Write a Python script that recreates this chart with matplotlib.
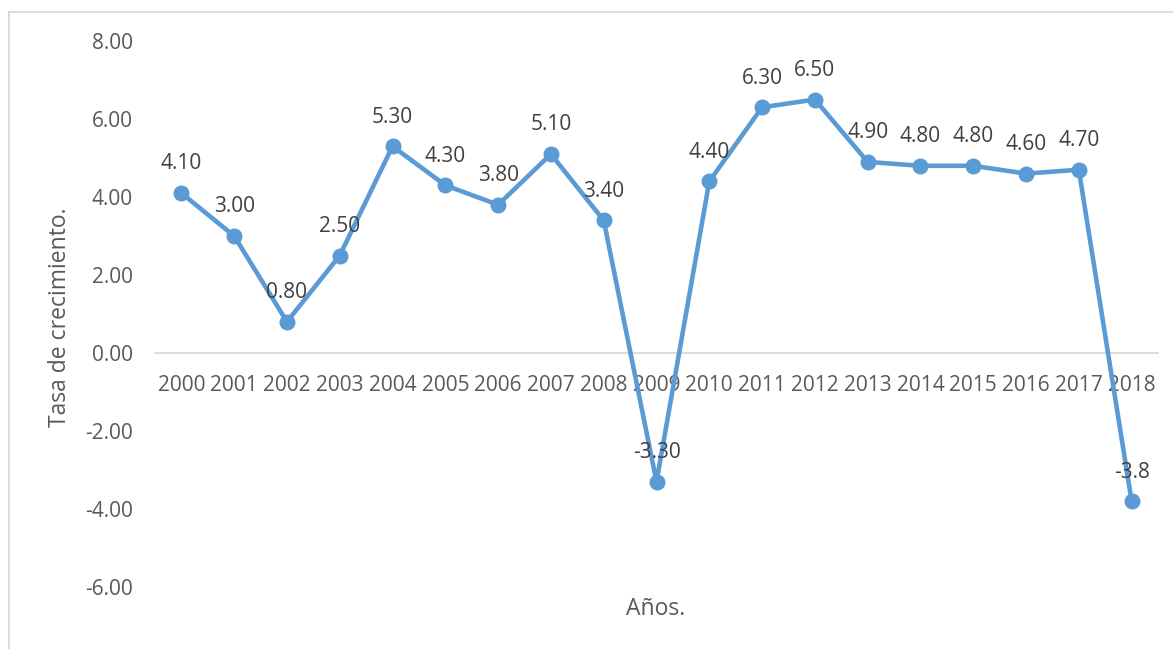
import matplotlib.pyplot as plt
from matplotlib.lines import Line2D
from matplotlib.ticker import FormatStrFormatter

plt.rcParams['font.family'] = ['Open Sans', 'DejaVu Sans']
plt.rcParams['axes.unicode_minus'] = False

# datos
anios = ['2000', '2001', '2002', '2003', '2004', '2005', '2006', '2007', '2008', '2009',
         '2010', '2011', '2012', '2013', '2014', '2015', '2016', '2017', '2018']
tasa = [4.1, 3.0, 0.8, 2.5, 5.3, 4.3, 3.8, 5.1, 3.4, -3.3,
        4.4, 6.3, 6.5, 4.9, 4.8, 4.8, 4.6, 4.7, -3.8]
etiquetas = ['4.10', '3.00', '0.80', '2.50', '5.30', '4.30', '3.80', '5.10', '3.40', '-3.30',
             '4.40', '6.30', '6.50', '4.90', '4.80', '4.80', '4.60', '4.70', '-3.8']

fig = plt.figure(figsize=(11.73, 6.49), dpi=100)
ax = fig.add_axes([155 / 1173, 1 - 587 / 649, 1003 / 1173, 546 / 649])

x = list(range(len(anios)))
ax.plot(x, tasa, color='#5B9BD5', linewidth=3.3, marker='o', markersize=10.5,
        solid_joinstyle='round', zorder=3)

for xi, yi, lab in zip(x, tasa, etiquetas):
    ax.annotate(lab, (xi, yi), xytext=(0, 21), textcoords='offset points',
                ha='center', va='center', fontsize=15, color='#404040', zorder=4)

ax.set_xlim(-0.5, len(anios) - 0.5)
ax.set_ylim(-6, 8)
ax.set_yticks([-6, -4, -2, 0, 2, 4, 6, 8])
ax.yaxis.set_major_formatter(FormatStrFormatter('%.2f'))
ax.set_xticks(x)
ax.set_xticklabels(anios)

for s in ['top', 'right', 'left']:
    ax.spines[s].set_visible(False)
ax.spines['bottom'].set_position(('data', 0))
ax.spines['bottom'].set_color('#D9D9D9')
ax.spines['bottom'].set_linewidth(1.3)
ax.spines['bottom'].set_zorder(1)

ax.tick_params(axis='both', length=0, labelsize=15, colors='#595959')
ax.tick_params(axis='x', pad=16)
ax.tick_params(axis='y', pad=16)

fig.text(60 / 1173, 1 - 317 / 649, 'Tasa de crecimiento.', rotation=90,
         ha='center', va='center', fontsize=16.5, color='#595959')
fig.text(656 / 1173, 1 - 609 / 649, 'Años.', ha='center', va='center',
         fontsize=16.5, color='#595959')

# borde del área del gráfico
fig.add_artist(Line2D([9 / 1173, 9 / 1173], [0, 1 - 12 / 649], transform=fig.transFigure,
                      color='#D9D9D9', linewidth=1.3))
fig.add_artist(Line2D([9 / 1173, 1], [1 - 12 / 649, 1 - 12 / 649], transform=fig.transFigure,
                      color='#D9D9D9', linewidth=1.3))

fig.savefig('out.png', dpi=100)
